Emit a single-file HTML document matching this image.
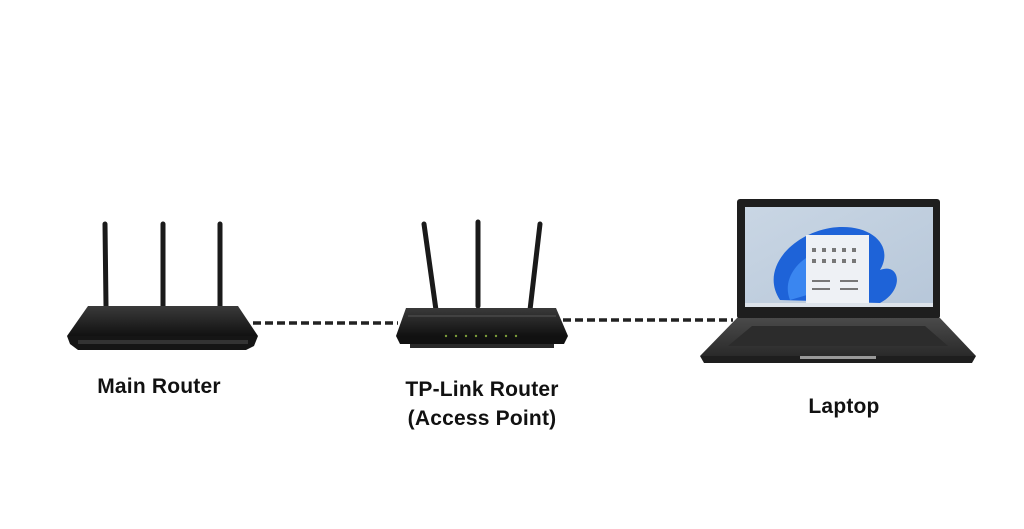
<!DOCTYPE html>
<html><head><meta charset="utf-8"><style>
html,body{margin:0;padding:0;background:#fff;width:1024px;height:529px;overflow:hidden}
svg{display:block}
text{font-family:"Liberation Sans",sans-serif;font-weight:bold;font-size:21px;fill:#111;text-anchor:middle;letter-spacing:0.2px}
</style></head><body>
<svg width="1024" height="529" viewBox="0 0 1024 529">
<defs>
<linearGradient id="rb" x1="0" y1="0" x2="0" y2="1"><stop offset="0" stop-color="#3a3a3a"/><stop offset="1" stop-color="#111"/></linearGradient>
<linearGradient id="scr" x1="0" y1="0" x2="1" y2="1"><stop offset="0" stop-color="#c9d6e4"/><stop offset="1" stop-color="#b7c7d9"/></linearGradient>
<linearGradient id="kb" x1="0" y1="0" x2="0" y2="1"><stop offset="0" stop-color="#4a4a4a"/><stop offset="1" stop-color="#2a2a2a"/></linearGradient>
</defs>
<g stroke="#1a1a1a" stroke-width="5" stroke-linecap="round">
<line x1="105" y1="224" x2="106" y2="306"/>
<line x1="163" y1="224" x2="163" y2="306"/>
<line x1="220" y1="224" x2="220" y2="306"/>
</g>
<polygon points="88,306 238,306 258,336 67,336" fill="url(#rb)"/>
<polygon points="67,336 258,336 254,346 246,350 78,350 70,344" fill="#151515"/>
<rect x="78" y="340" width="170" height="4" fill="#333"/>
<line x1="253" y1="323" x2="398" y2="323" stroke="#222" stroke-width="3.5" stroke-dasharray="8,4"/>
<g stroke="#1a1a1a" stroke-width="5" stroke-linecap="round">
<line x1="424" y1="224" x2="436" y2="310"/>
<line x1="478" y1="222" x2="478" y2="306"/>
<line x1="540" y1="224" x2="530" y2="310"/>
</g>
<polygon points="406,308 556,308 568,336 396,336" fill="url(#rb)"/>
<polygon points="396,336 568,336 564,344 400,344" fill="#111"/>
<rect x="410" y="344" width="144" height="4" fill="#2a2a2a"/>
<line x1="408" y1="316" x2="556" y2="316" stroke="#555" stroke-width="1"/>
<g fill="#7a9a3a"><circle cx="446" cy="336" r="1.2"/><circle cx="456" cy="336" r="1.2"/><circle cx="466" cy="336" r="1.2"/><circle cx="476" cy="336" r="1.2"/><circle cx="486" cy="336" r="1.2"/><circle cx="496" cy="336" r="1.2"/><circle cx="506" cy="336" r="1.2"/><circle cx="516" cy="336" r="1.2"/></g>
<line x1="563" y1="320" x2="733" y2="320" stroke="#222" stroke-width="3.5" stroke-dasharray="8,4"/>
<rect x="737" y="199" width="203" height="120" rx="3" fill="#1e1e1e"/>
<rect x="745" y="207" width="188" height="100" fill="url(#scr)"/>
<path d="M780 300 C760 270 790 235 830 228 C870 222 895 245 880 270 C900 262 905 290 880 303 Z" fill="#1e63d8"/>
<path d="M790 300 C780 275 805 250 835 248 C860 246 870 262 858 280 Z" fill="#3a86f0"/>
<rect x="806" y="235" width="63" height="71" fill="#eef1f5"/>
<g fill="#777"><rect x="812" y="248" width="4" height="4"/><rect x="822" y="248" width="4" height="4"/><rect x="832" y="248" width="4" height="4"/><rect x="842" y="248" width="4" height="4"/><rect x="852" y="248" width="4" height="4"/><rect x="812" y="259" width="4" height="4"/><rect x="822" y="259" width="4" height="4"/><rect x="832" y="259" width="4" height="4"/><rect x="842" y="259" width="4" height="4"/><rect x="852" y="259" width="4" height="4"/><rect x="812" y="280" width="18" height="2"/><rect x="840" y="280" width="18" height="2"/><rect x="812" y="288" width="18" height="2"/><rect x="840" y="288" width="18" height="2"/></g>
<rect x="745" y="303" width="188" height="4" fill="#dde3ea"/>
<polygon points="737,318 940,318 976,356 700,356" fill="url(#kb)"/>
<polygon points="752,326 925,326 948,346 728,346" fill="#2c2c2c"/>
<polygon points="700,356 976,356 972,363 704,363" fill="#1e1e1e"/>
<rect x="800" y="356" width="76" height="3" fill="#999"/>
<text x="159" y="393">Main Router</text>
<text x="482" y="396">TP-Link Router</text>
<text x="482" y="425">(Access Point)</text>
<text x="844" y="413">Laptop</text>
</svg>
</body></html>
